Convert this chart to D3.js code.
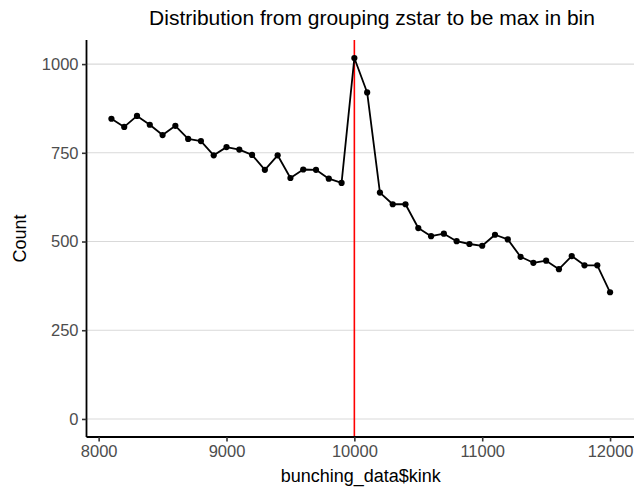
<!DOCTYPE html>
<html>
<head>
<meta charset="utf-8">
<script src="https://cdn.jsdelivr.net/npm/d3@7"></script>
<style>
  body { margin: 0; background: #fff; }
  svg { display: block; }
  text { font-family: "Liberation Sans", Arial, Helvetica, sans-serif; }
</style>
</head>
<body>
<svg id="chart" width="634" height="487"></svg>
<script>
const kink = [8100,8200,8300,8400,8500,8600,8700,8800,8900,9000,
              9100,9200,9300,9400,9500,9600,9700,9800,9900,10000,
              10100,10200,10300,10400,10500,10600,10700,10800,10900,11000,
              11100,11200,11300,11400,11500,11600,11700,11800,11900,12000];
const counts = [846,823,854,829,800,826,789,783,743,766,
                759,744,702,743,679,703,702,677,665,1017,
                920,638,605,605,538,515,522,501,493,488,
                519,506,457,440,446,422,459,433,433,357];
const xTicks = [8000, 9000, 10000, 11000, 12000];
const yTicks = [0, 250, 500, 750, 1000];
const kinkLine = 10000;
const title = "Distribution from grouping zstar to be max in bin";
const xLabel = "bunching_data$kink";
const yLabel = "Count";

const data = kink.map((k, i) => ({x: k, y: counts[i]}));

const W = 634, H = 487;
const panel = {left: 86.5, right: 635, top: 40, bottom: 437};

const xMin = d3.min(kink), xMax = d3.max(kink);
const xPad = (xMax - xMin) * 0.05;
const yMax = d3.max(counts);
const yPad = yMax * 0.05;

const x = d3.scaleLinear().domain([xMin - xPad, xMax + xPad]).range([panel.left, panel.right]);
const y = d3.scaleLinear().domain([0 - yPad, yMax + yPad]).range([panel.bottom, panel.top]);

const svg = d3.select("#chart");

// grid lines
svg.append("g").selectAll("line").data(yTicks).join("line")
  .attr("x1", panel.left).attr("x2", panel.right)
  .attr("y1", d => y(d)).attr("y2", d => y(d))
  .attr("stroke", "#d9d9d9").attr("stroke-width", 1.1);

// vertical red line
svg.append("line")
  .attr("x1", x(kinkLine)).attr("x2", x(kinkLine))
  .attr("y1", panel.top).attr("y2", panel.bottom)
  .attr("stroke", "#ff0000").attr("stroke-width", 1.6);

// series line
svg.append("path").datum(data)
  .attr("fill", "none").attr("stroke", "#000").attr("stroke-width", 1.8)
  .attr("stroke-linejoin", "round")
  .attr("d", d3.line().x(d => x(d.x)).y(d => y(d.y)));

// points
svg.append("g").selectAll("circle").data(data).join("circle")
  .attr("cx", d => x(d.x)).attr("cy", d => y(d.y)).attr("r", 3.1).attr("fill", "#000");

// axes
const xAxis = svg.append("g").attr("transform", `translate(0,${panel.bottom})`)
  .call(d3.axisBottom(x).tickValues(xTicks).tickFormat(d3.format("d")).tickSizeOuter(0).tickSize(4.5).tickPadding(3.5));
const yAxis = svg.append("g").attr("transform", `translate(${panel.left},0)`)
  .call(d3.axisLeft(y).tickValues(yTicks).tickFormat(d3.format("d")).tickSizeOuter(0).tickSize(4.5).tickPadding(3.5));

[xAxis, yAxis].forEach(a => {
  a.select(".domain").attr("stroke", "#000").attr("stroke-width", 1.8);
  a.selectAll(".tick line").attr("stroke", "#333").attr("stroke-width", 1.6);
  a.selectAll(".tick text").attr("fill", "#4d4d4d").style("font-size", "16.5px");
});
// extend axis lines to panel corners
xAxis.select(".domain").attr("d", `M${panel.left},0H${panel.right}`);
yAxis.select(".domain").attr("d", `M0,${panel.top}V${panel.bottom}`);

// titles
svg.append("text")
  .attr("x", 372).attr("y", 25)
  .attr("text-anchor", "middle").attr("fill", "#000").style("font-size", "21px")
  .text(title);

svg.append("text")
  .attr("x", (panel.left + panel.right) / 2).attr("y", 482)
  .attr("text-anchor", "middle").attr("fill", "#000").style("font-size", "18px")
  .text(xLabel);

svg.append("text")
  .attr("transform", `translate(26,${(panel.top + panel.bottom) / 2}) rotate(-90)`)
  .attr("text-anchor", "middle").attr("fill", "#000").style("font-size", "18px")
  .text(yLabel);
</script>
</body>
</html>
